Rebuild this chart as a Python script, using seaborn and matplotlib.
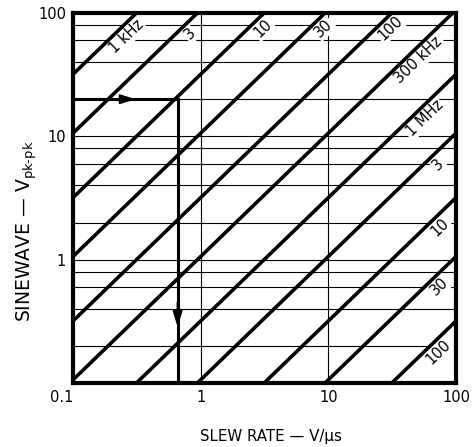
import numpy as np
import pandas as pd
import matplotlib
matplotlib.use("Agg")
import matplotlib.pyplot as plt
import seaborn as sns
from matplotlib.ticker import FixedLocator, FixedFormatter, NullFormatter, NullLocator

# ---------------- data ----------------
freq_hz = [1e3, 3e3, 1e4, 3e4, 1e5, 3e5, 1e6, 3e6, 1e7, 3e7, 1e8]
freq_labels = ["1 kHz", "3", "10", "30", "100", "300 kHz", "1 MHz", "3", "10", "30", "100"]
volt_range = [0.1, 100]
x_ticks = [0.1, 1, 10, 100]
x_tick_labels = ["0.1", "1", "10", "100"]
y_ticks = [1, 10, 100]
y_tick_labels = ["1", "10", "100"]
y_minor = [0.2, 0.4, 0.6, 0.8, 2, 4, 6, 8, 20, 40, 60, 80]
example_vpp = 20
example_slew = 0.66

# ---------------- style ----------------
sns.set_style("white")
plt.rcParams["font.family"] = ["DejaVu Sans"]
plt.rcParams["font.size"] = 10
plt.rcParams["text.color"] = "black"
plt.rcParams["axes.labelcolor"] = "black"
plt.rcParams["xtick.color"] = "black"
plt.rcParams["ytick.color"] = "black"

rows = []
for f in freq_hz:
    for v in volt_range:
        rows.append({"freq": f, "vpp": v, "slew": np.pi * f * v * 1e-6})
df = pd.DataFrame(rows)

W, H = 476, 447
fig = plt.figure(figsize=(W / 100, H / 100), dpi=100)
ax = fig.add_axes([73 / W, 1 - 383 / H, 383 / W, 370 / H])
ax.set_xscale("log")
ax.set_yscale("log")

sns.lineplot(data=df, x="slew", y="vpp", units="freq", estimator=None,
             color="black", lw=2.6, legend=False, ax=ax, zorder=3,
             solid_capstyle="butt")

ax.set_xlim(0.1, 100)
ax.set_ylim(0.1, 100)

# grid
ax.xaxis.set_major_locator(FixedLocator(x_ticks))
ax.xaxis.set_major_formatter(FixedFormatter(x_tick_labels))
ax.xaxis.set_minor_locator(NullLocator())
ax.yaxis.set_major_locator(FixedLocator(y_ticks))
ax.yaxis.set_major_formatter(FixedFormatter(y_tick_labels))
ax.yaxis.set_minor_locator(FixedLocator(y_minor))
ax.yaxis.set_minor_formatter(NullFormatter())
ax.grid(True, which="major", axis="both", color="black", lw=0.8, zorder=0.5)
ax.grid(True, which="minor", axis="y", color="black", lw=0.8, zorder=0.5)
ax.set_axisbelow(True)
ax.tick_params(which="both", length=0, labelcolor="black")
ax.tick_params(axis="x", pad=5, labelsize=10.5)
ax.tick_params(axis="y", pad=5, labelsize=10.5)
ax.get_xticklabels()[0].set_horizontalalignment("right")

for s in ax.spines.values():
    s.set_visible(True)
    s.set_linewidth(3)
    s.set_color("black")
    s.set_zorder(5)

# example path with arrows
ax.plot([0.1, example_slew, example_slew], [example_vpp, example_vpp, 0.1],
        color="black", lw=2.2, solid_joinstyle="miter", zorder=4)
head = "-|>,head_length=0.9,head_width=0.28"
ax.annotate("", xy=(0.31, example_vpp), xytext=(0.22, example_vpp),
            arrowprops=dict(arrowstyle=head, color="black", lw=1.5,
                            shrinkA=0, shrinkB=0), zorder=4)
ax.annotate("", xy=(example_slew, 0.285), xytext=(example_slew, 0.45),
            arrowprops=dict(arrowstyle=head, color="black", lw=1.5,
                            shrinkA=0, shrinkB=0), zorder=4)

# line labels
fig.canvas.draw()
p1 = ax.transData.transform((1, 1))
p2 = ax.transData.transform((10, 10))
ang = np.arctan2(p2[1] - p1[1], p2[0] - p1[0])
c, s = np.cos(ang), np.sin(ang)
label_slew = [0.23, 0.73, 2.7, 8.1, 27, 45, 50, 64, 66, 66, 64]
d = 10
for f, lab, sr in zip(freq_hz, freq_labels, label_slew):
    v = sr / (np.pi * f * 1e-6)
    ax.annotate(lab, xy=(sr, v), xytext=(d * s, -d * c), textcoords="offset pixels",
                rotation=np.degrees(ang), rotation_mode="anchor",
                ha="center", va="center", fontsize=10.5, color="black",
                bbox=dict(boxstyle="square,pad=0.1", fc="white", ec="none"),
                zorder=2)

ax.set_xlabel("SLEW RATE — V/µs", fontsize=10.8, va="center", color="black")
ax.xaxis.set_label_coords((271 - 73) / 383, (383 - 437) / 370)
ax.set_ylabel("SINEWAVE — V$_{\\mathregular{pk‐pk}}$", fontsize=13.5, va="center",
              color="black")
ax.yaxis.set_label_coords((27 - 73) / 383, (383 - 231) / 370)

fig.savefig("out.png", dpi=100, facecolor="white")
